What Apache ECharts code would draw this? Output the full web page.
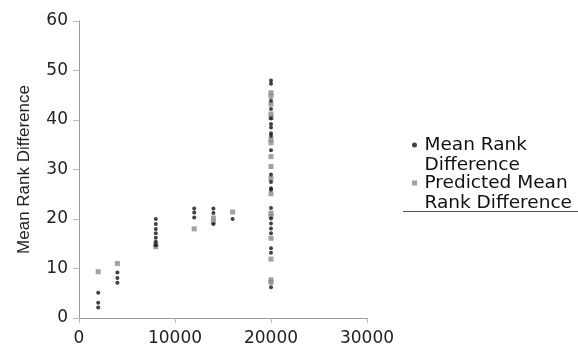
<!DOCTYPE html>
<html>
<head>
<meta charset="utf-8">
<script src="https://cdn.jsdelivr.net/npm/echarts@6/dist/echarts.min.js"></script>
<style>
html,body{margin:0;padding:0;background:#fff;}
#c{width:578px;height:351px;}
</style>
</head>
<body>
<div id="c"></div>
<script>
// x positions (groups)
const xGroups = [2000, 4000, 8000, 12000, 14000, 16000, 20000];
// Mean Rank Difference values per group
const meanRank = [
  [5.1, 3.1, 2.1],
  [9.2, 8.1, 7.1],
  [20.0, 19.0, 18.0, 17.1, 16.2, 15.4, 14.7],
  [22.1, 21.3, 20.3],
  [22.1, 21.2, 19.0],
  [20.0],
  [48.0, 47.3, 43.9, 42.2, 40.3, 39.2, 38.5, 37.3, 36.8, 33.9, 29.0, 27.5, 26.2, 25.9, 22.2, 20.1, 19.1, 18.1, 17.1, 14.1, 13.2, 6.2]
];
// Predicted Mean Rank Difference values per group
const predRank = [
  [9.35],
  [11.0],
  [14.9, 14.4],
  [18.0],
  [20.2, 19.4],
  [21.4],
  [45.5, 44.8, 43.2, 41.2, 40.5, 36.1, 35.4, 32.6, 30.6, 28.2, 25.1, 21.2, 20.6, 16.1, 11.9, 7.7, 7.2]
];
const xTicks = [0, 10000, 20000, 30000];
const yTicks = [0, 10, 20, 30, 40, 50, 60];

function toPoints(groups) {
  const pts = [];
  groups.forEach((vals, i) => vals.forEach(v => pts.push([xGroups[i], v])));
  return pts;
}

const chart = echarts.init(document.getElementById('c'), null, {renderer: 'canvas'});
const axisFont = {fontFamily: 'DejaVu Sans', fontSize: 17, color: '#222'};
chart.setOption({
  animation: false,
  backgroundColor: '#fff',
  grid: {left: 79, right: 211, top: 21, bottom: 33, containLabel: false},
  xAxis: {
    type: 'value', min: xTicks[0], max: xTicks[xTicks.length - 1], interval: 10000,
    axisLine: {show: true, lineStyle: {color: '#9a9a9a', width: 1}},
    axisTick: {show: true, length: 5, lineStyle: {color: '#bbb'}},
    axisLabel: Object.assign({margin: 12, formatter: v => String(v)}, axisFont),
    splitLine: {show: false}
  },
  yAxis: {
    type: 'value', min: yTicks[0], max: yTicks[yTicks.length - 1], interval: 10,
    name: 'Mean Rank Difference', nameLocation: 'middle', nameGap: 46,
    nameTextStyle: {fontFamily: 'Liberation Sans', fontSize: 17, color: '#222'},
    axisLine: {show: true, lineStyle: {color: '#9a9a9a', width: 1}},
    axisTick: {show: true, length: 6, lineStyle: {color: '#bbb'}},
    axisLabel: Object.assign({margin: 11}, axisFont),
    splitLine: {show: false}
  },
  legend: {
    orient: 'vertical', left: 412, top: 115, itemGap: -22,
    itemWidth: 10, itemHeight: 5, padding: 0, symbolKeepAspect: true,
    textStyle: {fontFamily: 'DejaVu Sans', fontSize: 18.5, color: '#111', lineHeight: 20},
    formatter: function (name) {
      return name === 'Mean Rank Difference' ? ' \nMean Rank\nDifference' : ' \nPredicted Mean\nRank Difference';
    },
    data: [
      {name: 'Mean Rank Difference', icon: 'circle'},
      {name: 'Predicted Mean Rank Difference', icon: 'path://M0,0h10v10h-10z'}
    ]
  },
  graphic: [{
    type: 'line', shape: {x1: 403, y1: 211.5, x2: 578, y2: 211.5},
    style: {stroke: '#555', lineWidth: 1}, silent: true
  }],
  series: [
    {
      name: 'Predicted Mean Rank Difference', type: 'scatter', symbol: 'rect', symbolSize: [5, 5],
      itemStyle: {color: '#8a8a8a'}, data: toPoints(predRank), z: 2
    },
    {
      name: 'Mean Rank Difference', type: 'scatter', symbol: 'circle', symbolSize: 4,
      itemStyle: {color: '#111'}, data: toPoints(meanRank), z: 3
    }
  ]
});
</script>
</body>
</html>
